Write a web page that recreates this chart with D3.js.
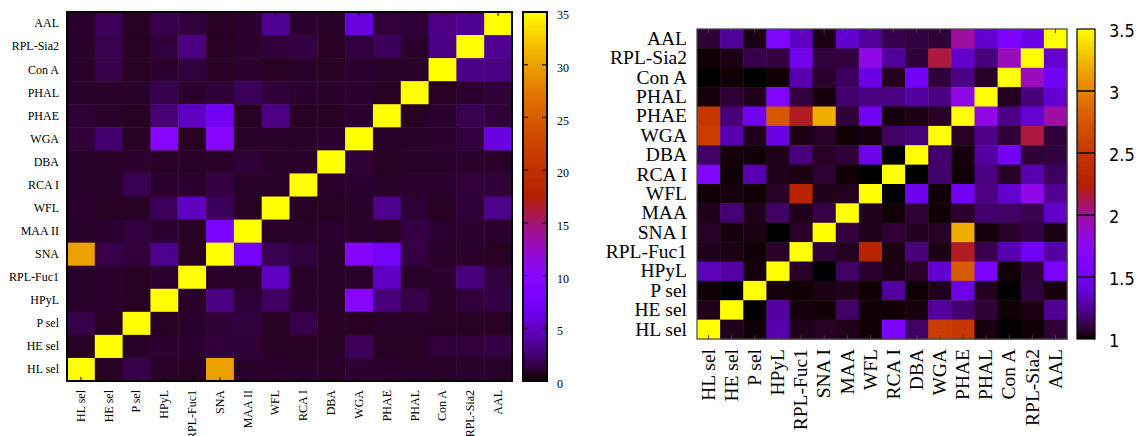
<!DOCTYPE html>
<html>
<head>
<meta charset="utf-8">
<script src="https://cdn.jsdelivr.net/npm/d3@7"></script>
<style>
  body { margin: 0; background: #fff; }
  svg { display: block; }
</style>
</head>
<body>
<div class="canvas"></div>
<script>
// ---- data ----
// rows listed top to bottom, columns left to right
const rowsLeft = ['AAL', 'RPL-Sia2', 'Con A', 'PHAL', 'PHAE', 'WGA', 'DBA', 'RCA I', 'WFL', 'MAA II', 'SNA', 'RPL-Fuc1', 'HPyL', 'P sel', 'HE sel', 'HL sel']
const colsLeft = ['HL sel', 'HE sel', 'P sel', 'HPyL', 'RPL-Fuc1', 'SNA', 'MAA II', 'WFL', 'RCA I', 'DBA', 'WGA', 'PHAE', 'PHAL', 'Con A', 'RPL-Sia2', 'AAL']
const ticksLeft = [0, 5, 10, 15, 20, 25, 30, 35]

const valuesLeft = [
  [1.0, 2.0, 0.8, 1.6, 1.4, 0.8, 1.0, 3.4, 1.0, 0.9, 5.8, 1.3, 1.2, 3.1, 3.4, 35],
  [0.9, 1.8, 0.8, 1.3, 3.0, 0.8, 1.0, 1.3, 1.5, 0.8, 1.4, 2.0, 1.0, 3.0, 35, 3.4],
  [0.9, 1.6, 0.8, 1.0, 1.4, 0.8, 1.0, 0.8, 0.9, 0.8, 1.0, 0.9, 0.9, 35, 3.0, 3.0],
  [0.9, 0.9, 0.9, 1.7, 1.0, 1.2, 2.0, 1.3, 1.0, 0.9, 1.0, 0.8, 35, 0.8, 1.0, 1.2],
  [1.2, 0.9, 0.8, 2.6, 4.8, 7.0, 0.8, 3.0, 0.8, 0.8, 1.0, 35, 0.8, 1.0, 1.8, 1.3],
  [1.3, 2.5, 0.8, 9.5, 0.8, 9.5, 0.9, 0.9, 0.9, 1.1, 35, 0.9, 0.9, 1.0, 1.4, 6.0],
  [0.9, 0.9, 1.0, 0.9, 0.9, 0.9, 1.2, 0.9, 0.9, 35, 1.2, 0.8, 0.9, 0.9, 0.9, 0.9],
  [0.9, 0.9, 1.8, 1.0, 1.0, 1.5, 0.9, 0.9, 35, 0.9, 1.0, 0.9, 1.0, 1.0, 1.3, 1.2],
  [1.0, 0.8, 0.8, 2.0, 4.8, 2.0, 0.8, 35, 0.8, 0.8, 0.9, 3.2, 1.2, 0.8, 1.2, 3.2],
  [0.9, 1.1, 1.4, 1.1, 0.8, 8.0, 35, 0.9, 0.9, 1.0, 0.9, 0.8, 1.5, 1.0, 1.0, 1.0],
  [30, 1.6, 1.3, 3.2, 0.8, 35, 7.5, 1.8, 1.4, 0.9, 9.5, 7.5, 1.5, 0.9, 0.9, 0.8],
  [0.9, 1.0, 0.8, 1.0, 35, 0.9, 0.9, 4.8, 0.9, 0.9, 0.9, 4.8, 0.9, 1.1, 2.8, 1.4],
  [0.9, 1.0, 0.8, 35, 0.9, 3.0, 1.2, 2.2, 0.9, 0.9, 9.5, 2.8, 1.6, 0.9, 1.3, 1.5],
  [1.6, 0.8, 35, 0.8, 0.9, 1.2, 1.4, 0.8, 1.6, 0.8, 0.8, 0.9, 0.9, 0.8, 0.8, 0.8],
  [0.8, 35, 0.9, 1.1, 1.1, 1.3, 1.2, 0.8, 0.8, 0.8, 2.0, 0.8, 0.8, 1.3, 1.3, 1.5],
  [35, 0.8, 1.6, 0.9, 0.8, 30, 0.9, 1.0, 0.9, 0.9, 1.1, 1.0, 0.9, 0.9, 0.9, 0.9]
]

const rowsRight = ['AAL', 'RPL-Sia2', 'Con A', 'PHAL', 'PHAE', 'WGA', 'DBA', 'RCA I', 'WFL', 'MAA', 'SNA I', 'RPL-Fuc1', 'HPyL', 'P sel', 'HE sel', 'HL sel']
const colsRight = ['HL sel', 'HE sel', 'P sel', 'HPyL', 'RPL-Fuc1', 'SNA I', 'MAA', 'WFL', 'RCA I', 'DBA', 'WGA', 'PHAE', 'PHAL', 'Con A', 'RPL-Sia2', 'AAL']
const ticksRight = [1, 1.5, 2, 2.5, 3, 3.5]

const valuesRight = [
  [1.09, 1.26, 1.03, 1.63, 1.35, 1.03, 1.38, 1.26, 1.12, 1.10, 1.09, 1.98, 1.38, 1.60, 1.45, 3.5],
  [1.01, 1.03, 1.12, 1.10, 1.48, 1.10, 1.10, 1.80, 1.26, 1.09, 2.15, 1.36, 1.20, 1.92, 3.5, 1.38],
  [1.00, 1.01, 1.00, 1.01, 1.30, 1.07, 1.15, 1.45, 1.05, 1.52, 1.09, 1.22, 1.06, 3.5, 1.92, 1.52],
  [1.02, 1.08, 1.04, 1.63, 1.10, 1.02, 1.17, 1.21, 1.21, 1.27, 1.21, 1.80, 3.5, 1.05, 1.20, 1.38],
  [2.50, 1.20, 1.48, 2.75, 2.20, 3.20, 1.09, 1.50, 1.02, 1.03, 1.06, 3.5, 1.80, 1.22, 1.38, 1.97],
  [2.55, 1.30, 1.04, 1.45, 1.03, 1.06, 1.01, 1.02, 1.16, 1.19, 3.5, 1.06, 1.23, 1.09, 2.15, 1.09],
  [1.16, 1.02, 1.01, 1.04, 1.20, 1.06, 1.09, 1.47, 1.00, 3.5, 1.17, 1.02, 1.27, 1.52, 1.09, 1.10],
  [1.63, 1.01, 1.30, 1.04, 1.03, 1.08, 1.01, 1.00, 3.5, 1.00, 1.17, 1.01, 1.21, 1.06, 1.30, 1.15],
  [1.01, 1.02, 1.01, 1.06, 2.30, 1.04, 1.05, 3.5, 1.00, 1.47, 1.01, 1.52, 1.21, 1.38, 1.80, 1.25],
  [1.04, 1.19, 1.04, 1.16, 1.04, 1.11, 3.5, 1.04, 1.01, 1.09, 1.01, 1.07, 1.18, 1.16, 1.13, 1.36],
  [1.06, 1.02, 1.03, 1.00, 1.06, 3.5, 1.10, 1.04, 1.08, 1.05, 1.06, 3.20, 1.02, 1.06, 1.11, 1.03],
  [1.04, 1.03, 1.01, 1.07, 3.5, 1.09, 1.05, 2.30, 1.03, 1.20, 1.03, 2.20, 1.12, 1.30, 1.50, 1.28],
  [1.32, 1.28, 1.02, 3.5, 1.06, 1.00, 1.16, 1.07, 1.03, 1.06, 1.38, 2.78, 1.60, 1.01, 1.09, 1.57],
  [1.01, 1.00, 3.5, 1.02, 1.01, 1.03, 1.04, 1.01, 1.26, 1.01, 1.04, 1.45, 1.05, 1.00, 1.10, 1.02],
  [1.04, 3.5, 1.00, 1.27, 1.02, 1.01, 1.16, 1.01, 1.01, 1.02, 1.27, 1.18, 1.09, 1.01, 1.03, 1.25],
  [3.5, 1.04, 1.01, 1.30, 1.04, 1.06, 1.04, 1.01, 1.62, 1.16, 2.55, 2.50, 1.02, 1.00, 1.01, 1.09]
]

// gnuplot default pm3d palette (rgbformulae 7,5,15)
function gnuplot(t) {
  t = Math.max(0, Math.min(1, t))
  const r = Math.sqrt(t)
  const g = t * t * t
  const b = Math.max(0, Math.sin(2 * Math.PI * t))
  return d3.rgb(r * 255, g * 255, b * 255).toString()
}

const svg = d3.select('.canvas')
  .append('svg')
    .attr('width', 1138)
    .attr('height', 436)

const defs = svg.append('defs')

function drawHeatmap(o) {
  const x = d3.scaleBand().domain(o.cols).range([o.left, o.right])
  const y = d3.scaleBand().domain(o.rows).range([o.top, o.bottom])
  const colour = d3.scaleSequential(gnuplot).domain(o.domain)

  const g = svg.append('g')

  const cells = []
  o.values.forEach((row, i) => row.forEach((v, j) => cells.push({ r: o.rows[i], c: o.cols[j], v })))

  g.selectAll('rect.cell')
    .data(cells)
    .enter()
    .append('rect')
      .attr('class', 'cell')
      .attr('x', d => x(d.c))
      .attr('y', d => y(d.r))
      .attr('width', x.bandwidth() + 0.5)
      .attr('height', y.bandwidth() + 0.5)
      .attr('fill', d => colour(d.v))

  // row labels
  const yAxis = d3.axisLeft(y).tickSize(0).tickPadding(o.labelPad)
  const yg = g.append('g').attr('transform', `translate(${o.left},0)`).call(yAxis)
  yg.select('.domain').remove()
  yg.selectAll('text')
    .attr('font-family', '"Liberation Serif", serif')
    .attr('font-size', o.fontSize)
    .attr('fill', '#000')

  // column labels, rotated
  const xAxis = d3.axisBottom(x).tickSize(0)
  const xg = g.append('g').attr('transform', `translate(0,${o.bottom})`).call(xAxis)
  xg.select('.domain').remove()
  xg.selectAll('text')
    .attr('transform', 'rotate(-90)')
    .attr('text-anchor', 'end')
    .attr('x', -o.xLabelPad)
    .attr('y', 0)
    .attr('dy', '0.32em')
    .attr('font-family', '"Liberation Serif", serif')
    .attr('font-size', o.fontSize)
    .attr('fill', '#000')

  // small tick marks on bottom and top edges
  g.selectAll('line.tb')
    .data(o.cols)
    .enter()
    .append('line')
      .attr('x1', d => x(d) + x.bandwidth() / 2)
      .attr('x2', d => x(d) + x.bandwidth() / 2)
      .attr('y1', o.bottom)
      .attr('y2', o.bottom - 4)
      .attr('stroke', o.border)
  g.selectAll('line.tt')
    .data(o.cols)
    .enter()
    .append('line')
      .attr('x1', d => x(d) + x.bandwidth() / 2)
      .attr('x2', d => x(d) + x.bandwidth() / 2)
      .attr('y1', o.top)
      .attr('y2', o.top + 4)
      .attr('stroke', o.border)

  g.append('rect')
    .attr('x', o.left)
    .attr('y', o.top)
    .attr('width', o.right - o.left)
    .attr('height', o.bottom - o.top)
    .attr('fill', 'none')
    .attr('stroke', o.border)
    .attr('stroke-width', o.borderWidth)

  // colour bar
  const grad = defs.append('linearGradient')
    .attr('id', o.id)
    .attr('x1', 0).attr('y1', 1).attr('x2', 0).attr('y2', 0)
  d3.range(0, 101).forEach(k => {
    grad.append('stop')
      .attr('offset', `${k}%`)
      .attr('stop-color', gnuplot(k / 100))
  })

  const cb = svg.append('g')
  cb.append('rect')
    .attr('x', o.cbLeft)
    .attr('y', o.top)
    .attr('width', o.cbWidth)
    .attr('height', o.bottom - o.top)
    .attr('fill', `url(#${o.id})`)
    .attr('stroke', '#000')
    .attr('stroke-width', o.borderWidth)

  const cy = d3.scaleLinear().domain(o.domain).range([o.bottom, o.top])

  cb.selectAll('line.cbt')
    .data(o.ticks.slice(1, -1))
    .enter()
    .append('line')
      .attr('x1', o.cbLeft)
      .attr('x2', o.cbLeft + o.cbTick)
      .attr('y1', d => cy(d))
      .attr('y2', d => cy(d))
      .attr('stroke', '#111')
      .attr('stroke-width', 1.2)
  cb.selectAll('line.cbt2')
    .data(o.ticks.slice(1, -1))
    .enter()
    .append('line')
      .attr('x1', o.cbLeft + o.cbWidth)
      .attr('x2', o.cbLeft + o.cbWidth - o.cbTick)
      .attr('y1', d => cy(d))
      .attr('y2', d => cy(d))
      .attr('stroke', '#111')
      .attr('stroke-width', 1.2)

  cb.selectAll('text')
    .data(o.ticks)
    .enter()
    .append('text')
      .attr('x', o.cbLeft + o.cbWidth + o.cbLabelPad)
      .attr('y', d => cy(d) + o.cbLabelDy)
      .attr('dy', '0.35em')
      .attr('font-family', o.cbFont)
      .attr('font-size', o.cbFontSize)
      .attr('fill', '#000')
      .text(d => d)
}

drawHeatmap({
  id: 'gradLeft', rows: rowsLeft, cols: colsLeft, values: valuesLeft,
  domain: [0, 35], ticks: ticksLeft,
  left: 67, right: 512, top: 12, bottom: 381,
  fontSize: 12, labelPad: 8, xLabelPad: 9,
  border: '#000', borderWidth: 2,
  cbLeft: 523, cbWidth: 24, cbTick: 5, cbLabelPad: 10, cbLabelDy: 3,
  cbFont: '"Liberation Serif", serif', cbFontSize: 12
})

drawHeatmap({
  id: 'gradRight', rows: rowsRight, cols: colsRight, values: valuesRight,
  domain: [1, 3.5], ticks: ticksRight,
  left: 697, right: 1067, top: 29, bottom: 339,
  fontSize: 19.5, labelPad: 10, xLabelPad: 10,
  border: '#444', borderWidth: 1.2,
  cbLeft: 1077, cbWidth: 18, cbTick: 18, cbLabelPad: 14, cbLabelDy: 2,
  cbFont: '"DejaVu Sans Condensed", "DejaVu Sans", sans-serif', cbFontSize: 18
})
</script>
</body>
</html>
